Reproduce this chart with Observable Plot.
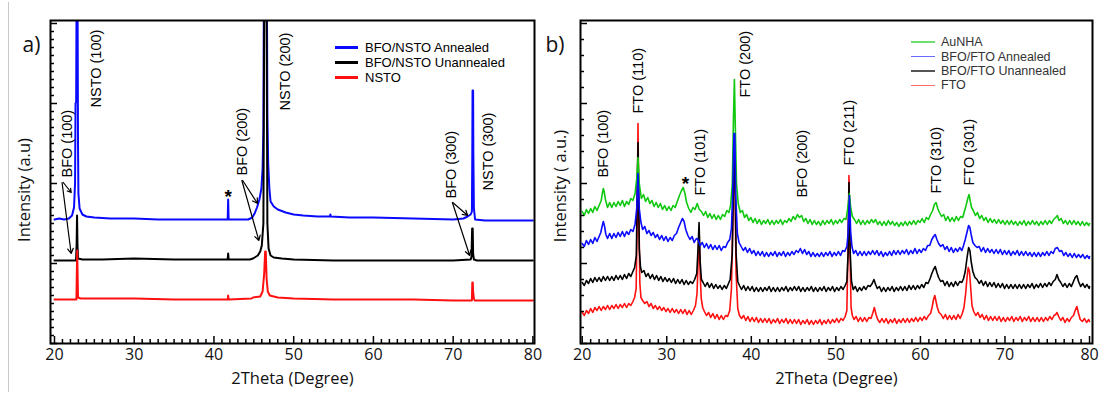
<!DOCTYPE html>
<html>
<head>
<meta charset="utf-8">
<script src="https://cdn.jsdelivr.net/npm/d3@7"></script>
<script src="https://cdn.jsdelivr.net/npm/@observablehq/plot@0.6"></script>
<style>
  body { margin: 0; background: #fff; }
  #fig { position: relative; width: 1106px; height: 396px; overflow: hidden; background: #fff; font-family: "Liberation Sans", Arial, sans-serif; }
  #fig .edge { position: absolute; left: 8px; top: 2px; width: 1px; height: 390px; background: #c8c8c8; }
  #fig .panel { position: absolute; top: 0; }
  #fig .legend { position: absolute; }
  #fig .legend .row { display: flex; align-items: center; white-space: nowrap; }
  #fig .legend .swatch { display: inline-block; }
</style>
</head>
<body>
<div id="fig">
  <div class="edge"></div>
  <div class="panel" id="panelA"></div>
  <div class="panel" id="panelB" style="left:545px"></div>
  <div class="legend" id="legendA" style="left:335px; top:40px; font-size:13px; color:#000"></div>
  <div class="legend" id="legendB" style="left:911px; top:35px; font-size:12.5px; color:#333"></div>
</div>
<script>
// ---- shared axis values --------------------------------------------------
const twoThetaTicks = [20, 30, 40, 50, 60, 70, 80];

// ---- panel a: BFO on Nb:SrTiO3 (2θ in degrees, intensity in a.u.) ---------
const bfoNstoAnnealed = [
  [20.0,124],[20.6,125],[21.2,124],[21.8,125],[22.2,128],[22.45,136],[22.58,160],[22.64,240],[22.72,242],
  [22.76,330],[22.9,330],[22.95,200],[23.0,150],[23.15,135],[23.5,129],[24.0,127],[25,126],[27,125],
  [30,125],[33,124],[36,124],[39,124],[41.72,124],[41.78,144],[41.84,124],[43,124],[44.3,124],[44.8,126],
  [45.1,130],[45.4,136],[45.7,144],[45.95,155],[46.1,175],[46.2,215],[46.25,330],[46.65,330],[46.7,230],
  [46.8,180],[46.95,155],[47.1,142],[47.5,137],[48,134],[49,131],[50,129],[51.2,128],[53,127],[54.55,127],
  [54.6,129],[54.65,127],[57,126],[60,126],[65,125],[70,124],[71.3,125],[71.8,127],[72.2,129],[72.35,132],
  [72.4,191],[72.43,253],[72.5,253],[72.53,191],[72.6,135],[72.75,124],[74,123],[77,123],[80,123]
];
const bfoNstoUnannealed = [
  [20.0,83],[21,83],[22.0,83],[22.7,83],[22.78,100],[22.83,128],[22.88,100],[22.95,85],[23.5,84],[26,84],
  [30,85],[35,84],[41.72,84],[41.78,90],[41.84,84],[44.5,84],[44.9,85],[45.1,86],[45.5,88],[45.8,92],
  [46.0,98],[46.2,120],[46.3,330],[46.6,330],[46.7,120],[46.85,95],[47.1,88],[47.5,86],[48.5,85],[50,84],
  [55,83],[60,83],[65,83],[70,83],[72.2,84],[72.3,87],[72.38,115],[72.45,115],[72.5,90],[72.6,84],[73,83],[80,83]
];
const nstoSubstrate = [
  [20.0,44],[21,44],[22.0,44],[22.75,44],[22.8,70],[22.85,93],[22.9,70],[22.95,46],[23.3,45],[26,45],
  [30,45],[35,44],[41.72,44],[41.78,48],[41.84,44],[44.7,45],[44.9,46],[45.8,47],[46.1,52],[46.3,70],
  [46.42,92],[46.5,92],[46.6,65],[46.75,52],[47,48],[48,46],[50,45],[55,44],[60,44],[65,44],[70,43],
  [72.35,43],[72.4,61],[72.46,61],[72.5,52],[72.6,45],[72.7,43],[80,43]
];
const seriesNamesA = ["BFO/NSTO Annealed", "BFO/NSTO Unannealed", "NSTO"];
const seriesColorsA = ["#0a0aff", "#000000", "#ff1010"];
const peakLabelsA = [
  {label: "BFO (100)", x: 21.6, y: 166},
  {label: "NSTO (100)", x: 25.3, y: 236},
  {label: "BFO (200)", x: 43.55, y: 168},
  {label: "NSTO (200)", x: 48.9, y: 233},
  {label: "BFO (300)", x: 69.8, y: 145},
  {label: "NSTO (300)", x: 74.4, y: 153}
];
const starsA = [{x: 41.8, y: 147}];
const arrowsA = [
  {x1: 21.1, y1: 161, x2: 22.1, y2: 151},
  {x1: 20.95, y1: 161, x2: 22.09, y2: 90},
  {x1: 43.6, y1: 163, x2: 45.47, y2: 140},
  {x1: 43.5, y1: 163, x2: 45.63, y2: 103},
  {x1: 69.94, y1: 141, x2: 71.82, y2: 128},
  {x1: 69.9, y1: 141, x2: 72.07, y2: 88}
];

// ---- panel b: BFO on FTO glass and AuNHA ----------------------------------
const auNHA = [
  [20.00,132],[20.25,128],[20.50,134],[20.75,130],[21.00,135],[21.25,131],[21.50,137],[21.75,133],[22.00,138],
  [22.25,143],[22.40,151],[22.50,155],[22.60,152],[22.75,144],[23.00,136],[23.25,141],[23.50,136],[23.75,141],
  [24.00,137],[24.25,142],[24.50,138],[24.75,143],[25.00,137],[25.25,142],[25.50,139],[25.75,145],[26.00,143],
  [26.25,150],[26.45,165],[26.60,186],[26.75,160],[26.90,151],[27.00,145],[27.25,149],[27.50,142],[27.75,146],
  [28.00,140],[28.25,143],[28.50,137],[28.75,141],[29.00,136],[29.25,140],[29.50,134],[29.75,138],[30.00,133],
  [30.25,137],[30.50,133],[30.75,138],[31.00,136],[31.25,142],[31.50,148],[31.75,153],[31.95,156],[32.15,150],
  [32.35,141],[32.60,135],[32.85,131],[33.10,136],[33.35,134],[33.60,140],[33.85,134],[34.10,132],[34.35,128],
  [34.60,132],[34.85,126],[35.10,130],[35.35,125],[35.60,129],[35.85,124],[36.10,128],[36.35,124],[36.60,129],
  [36.85,127],[37.10,133],[37.35,131],[37.55,138],[37.75,160],[37.90,230],[38.00,264],[38.10,220],[38.25,160],
  [38.45,140],[38.70,131],[38.95,133],[39.20,126],[39.45,129],[39.70,123],[39.95,126],[40.20,121],[40.45,125],
  [40.70,120],[40.95,124],[41.20,119],[41.45,123],[41.70,120],[41.95,124],[42.20,119],[42.45,123],[42.70,119],
  [42.95,123],[43.20,120],[43.45,124],[43.70,119],[43.95,123],[44.20,121],[44.45,125],[44.70,122],[44.95,127],
  [45.20,124],[45.45,129],[45.70,126],[45.95,128],[46.20,122],[46.45,125],[46.70,120],[46.95,124],[47.20,119],
  [47.45,123],[47.70,119],[47.95,122],[48.20,118],[48.45,123],[48.70,119],[48.95,123],[49.20,120],[49.45,124],
  [49.70,119],[49.95,123],[50.20,120],[50.45,124],[50.70,121],[50.95,125],[51.20,124],[51.40,135],[51.60,150],
  [51.75,136],[51.95,127],[52.20,124],[52.45,120],[52.70,124],[52.95,119],[53.20,123],[53.45,119],[53.70,123],
  [53.95,120],[54.20,124],[54.45,121],[54.70,124],[54.95,119],[55.20,122],[55.45,118],[55.70,122],[55.95,118],
  [56.20,123],[56.45,119],[56.70,122],[56.95,118],[57.20,121],[57.45,117],[57.70,121],[57.95,118],[58.20,122],
  [58.45,118],[58.70,122],[58.95,119],[59.20,123],[59.45,119],[59.70,123],[59.95,121],[60.20,125],[60.45,121],
  [60.70,126],[60.95,124],[61.20,129],[61.45,133],[61.65,139],[61.85,141],[62.05,135],[62.25,131],[62.50,127],
  [62.75,129],[63.00,123],[63.25,127],[63.50,122],[63.75,126],[64.00,122],[64.25,127],[64.50,123],[64.75,127],
  [65.00,126],[65.20,132],[65.40,138],[65.60,145],[65.75,149],[65.90,142],[66.05,136],[66.25,133],[66.50,128],
  [66.75,131],[67.00,125],[67.25,128],[67.50,123],[67.75,126],[68.00,121],[68.25,125],[68.50,121],[68.75,124],
  [69.00,120],[69.25,124],[69.50,120],[69.75,123],[70.00,119],[70.25,123],[70.50,119],[70.75,123],[71.00,119],
  [71.25,122],[71.50,118],[71.75,122],[72.00,119],[72.25,123],[72.50,118],[72.75,122],[73.00,119],[73.25,123],
  [73.50,119],[73.75,122],[74.00,118],[74.25,122],[74.50,119],[74.75,123],[75.00,119],[75.25,123],[75.50,120],
  [75.75,124],[76.00,126],[76.20,128],[76.40,123],[76.65,125],[76.90,120],[77.15,123],[77.40,119],[77.65,123],
  [77.90,119],[78.15,123],[78.40,119],[78.65,122],[78.90,118],[79.15,122],[79.40,118],[79.65,121],[79.90,118],
  [80.00,120]
];
const bfoFtoAnnealed = [
  [20.00,100],[20.25,97],[20.50,103],[20.75,99],[21.00,104],[21.25,100],[21.50,106],[21.75,102],[22.00,107],
  [22.20,111],[22.35,117],[22.50,122],[22.65,117],[22.80,109],[23.00,105],[23.25,110],[23.50,105],[23.75,110],
  [24.00,106],[24.25,111],[24.50,107],[24.75,112],[25.00,107],[25.25,112],[25.50,109],[25.75,114],[26.00,112],
  [26.25,119],[26.45,135],[26.60,170],[26.75,135],[26.95,121],[27.15,114],[27.40,117],[27.65,110],[27.90,113],
  [28.15,108],[28.40,111],[28.65,106],[28.90,109],[29.15,104],[29.40,108],[29.65,103],[29.90,107],[30.15,102],
  [30.40,106],[30.65,103],[30.90,108],[31.15,110],[31.40,116],[31.65,121],[31.85,125],[32.05,122],[32.25,114],
  [32.50,108],[32.75,104],[33.00,107],[33.25,101],[33.50,105],[33.70,104],[33.95,98],[34.20,101],[34.45,96],
  [34.70,100],[34.95,95],[35.20,99],[35.45,94],[35.70,98],[35.95,94],[36.20,98],[36.45,93],[36.70,97],
  [36.95,96],[37.20,101],[37.45,104],[37.65,115],[37.80,150],[37.95,210],[38.05,210],[38.15,150],[38.35,110],
  [38.55,101],[38.80,97],[39.05,93],[39.30,96],[39.55,91],[39.80,95],[40.05,90],[40.30,93],[40.55,88],
  [40.80,92],[41.05,88],[41.30,92],[41.55,87],[41.80,91],[42.05,87],[42.30,91],[42.55,88],[42.80,92],
  [43.05,87],[43.30,91],[43.55,88],[43.80,92],[44.05,87],[44.30,91],[44.55,88],[44.80,92],[45.05,89],
  [45.30,93],[45.55,91],[45.80,95],[46.05,90],[46.30,94],[46.55,89],[46.80,92],[47.05,87],[47.30,91],
  [47.55,87],[47.80,90],[48.05,87],[48.30,91],[48.55,87],[48.80,91],[49.05,88],[49.30,92],[49.55,87],
  [49.80,91],[50.05,88],[50.30,92],[50.55,88],[50.80,93],[51.05,92],[51.30,97],[51.45,110],[51.60,148],
  [51.75,112],[51.90,97],[52.10,90],[52.35,93],[52.60,88],[52.85,92],[53.10,88],[53.35,92],[53.60,88],
  [53.85,92],[54.10,89],[54.35,93],[54.60,89],[54.85,93],[55.10,88],[55.35,92],[55.60,87],[55.85,91],
  [56.10,88],[56.35,92],[56.60,88],[56.85,93],[57.10,89],[57.35,93],[57.60,89],[57.85,93],[58.10,90],
  [58.35,94],[58.60,89],[58.85,93],[59.10,90],[59.35,95],[59.60,90],[59.85,94],[60.10,91],[60.35,95],
  [60.60,93],[60.85,98],[61.10,98],[61.35,104],[61.55,107],[61.75,109],[61.95,104],[62.15,100],[62.40,97],
  [62.65,99],[62.90,94],[63.15,97],[63.40,92],[63.65,96],[63.90,91],[64.15,95],[64.40,92],[64.65,96],
  [64.90,93],[65.10,98],[65.30,104],[65.50,111],[65.70,118],[65.85,116],[66.00,109],[66.20,101],[66.45,98],
  [66.70,96],[66.95,97],[67.20,92],[67.45,96],[67.70,91],[67.95,95],[68.20,91],[68.45,94],[68.70,90],
  [68.95,94],[69.20,90],[69.45,94],[69.70,89],[69.95,93],[70.20,89],[70.45,93],[70.70,88],[70.95,92],
  [71.20,89],[71.45,93],[71.70,88],[71.95,92],[72.20,88],[72.45,92],[72.70,88],[72.95,91],[73.20,87],
  [73.45,91],[73.70,87],[73.95,91],[74.20,87],[74.45,91],[74.70,88],[74.95,92],[75.20,88],[75.45,92],
  [75.70,90],[75.95,95],[76.20,96],[76.45,92],[76.70,93],[76.95,88],[77.20,91],[77.45,87],[77.70,90],
  [77.95,86],[78.20,90],[78.45,86],[78.70,89],[78.95,86],[79.20,89],[79.45,85],[79.70,88],[79.95,85],
  [80.00,87]
];
const bfoFtoUnannealed = [
  [20.00,61],[20.25,58],[20.50,63],[20.75,60],[21.00,65],[21.25,61],[21.50,66],[21.75,62],[22.00,66],
  [22.25,62],[22.50,67],[22.75,63],[23.00,67],[23.25,63],[23.50,67],[23.75,63],[24.00,68],[24.25,64],
  [24.50,68],[24.75,64],[25.00,69],[25.25,65],[25.50,70],[25.75,67],[26.00,72],[26.20,76],[26.40,88],
  [26.60,201],[26.75,95],[26.90,76],[27.05,71],[27.30,73],[27.55,67],[27.80,70],[28.05,65],[28.30,69],
  [28.55,64],[28.80,68],[29.05,63],[29.30,67],[29.55,62],[29.80,66],[30.05,62],[30.30,65],[30.55,61],
  [30.80,65],[31.05,60],[31.30,64],[31.55,60],[31.80,64],[32.05,59],[32.30,63],[32.55,59],[32.80,62],
  [33.05,60],[33.30,64],[33.55,70],[33.70,95],[33.82,121],[33.95,82],[34.10,64],[34.30,61],[34.55,57],
  [34.80,61],[35.05,56],[35.30,60],[35.55,55],[35.80,59],[36.05,55],[36.30,58],[36.55,54],[36.80,58],
  [37.05,55],[37.30,60],[37.50,64],[37.75,90],[37.95,190],[38.05,190],[38.20,90],[38.40,62],[38.60,58],
  [38.85,54],[39.10,58],[39.35,53],[39.60,57],[39.85,53],[40.10,57],[40.35,52],[40.60,56],[40.85,52],
  [41.10,56],[41.35,52],[41.60,56],[41.85,53],[42.10,57],[42.35,52],[42.60,56],[42.85,52],[43.10,56],
  [43.35,52],[43.60,56],[43.85,53],[44.10,57],[44.35,52],[44.60,56],[44.85,53],[45.10,57],[45.35,53],
  [45.60,57],[45.85,52],[46.10,56],[46.35,52],[46.60,56],[46.85,53],[47.10,57],[47.35,52],[47.60,56],
  [47.85,52],[48.10,56],[48.35,53],[48.60,57],[48.85,52],[49.10,56],[49.35,53],[49.60,57],[49.85,52],
  [50.10,56],[50.35,53],[50.60,57],[50.85,54],[51.10,58],[51.30,62],[51.45,90],[51.55,161],[51.70,90],
  [51.85,62],[52.05,54],[52.30,57],[52.55,52],[52.80,56],[53.05,53],[53.30,57],[53.55,54],[53.80,58],
  [54.05,57],[54.30,60],[54.50,64],[54.70,59],[54.90,55],[55.15,57],[55.40,52],[55.65,56],[55.90,52],
  [56.15,56],[56.40,53],[56.65,57],[56.90,52],[57.15,56],[57.40,53],[57.65,57],[57.90,53],[58.15,57],
  [58.40,53],[58.65,58],[58.90,54],[59.15,58],[59.40,54],[59.65,58],[59.90,55],[60.15,59],[60.40,56],
  [60.65,61],[60.90,60],[61.15,65],[61.35,70],[61.55,74],[61.75,77],[61.95,71],[62.15,66],[62.40,62],
  [62.65,63],[62.90,58],[63.15,62],[63.40,57],[63.65,61],[63.90,57],[64.15,62],[64.40,58],[64.65,62],
  [64.90,61],[65.10,65],[65.30,72],[65.50,85],[65.70,96],[65.85,93],[66.00,82],[66.20,72],[66.45,66],
  [66.70,64],[66.95,60],[67.20,63],[67.45,58],[67.70,62],[67.95,57],[68.20,61],[68.45,57],[68.70,61],
  [68.95,56],[69.20,60],[69.45,56],[69.70,60],[69.95,55],[70.20,59],[70.45,55],[70.70,59],[70.95,55],
  [71.20,59],[71.45,55],[71.70,59],[71.95,55],[72.20,59],[72.45,55],[72.70,59],[72.95,56],[73.20,60],
  [73.45,55],[73.70,59],[73.95,56],[74.20,60],[74.45,56],[74.70,60],[74.95,57],[75.20,61],[75.45,58],
  [75.70,62],[75.95,64],[76.15,69],[76.35,64],[76.60,61],[76.85,57],[77.10,60],[77.35,56],[77.60,60],
  [77.85,57],[78.10,62],[78.30,66],[78.50,68],[78.70,62],[78.95,57],[79.20,60],[79.45,56],[79.70,59],
  [79.95,55],[80.00,57]
];
const ftoGlass = [
  [20.00,31],[20.25,28],[20.50,33],[20.75,30],[21.00,35],[21.25,31],[21.50,36],[21.75,33],[22.00,37],
  [22.25,33],[22.50,37],[22.75,34],[23.00,38],[23.25,34],[23.50,38],[23.75,35],[24.00,39],[24.25,35],
  [24.50,39],[24.75,36],[25.00,40],[25.25,36],[25.50,40],[25.75,38],[26.00,42],[26.20,46],[26.38,55],
  [26.50,120],[26.60,220],[26.70,130],[26.82,60],[26.95,46],[27.15,43],[27.40,40],[27.65,42],[27.90,37],
  [28.15,40],[28.40,35],[28.65,38],[28.90,34],[29.15,37],[29.40,33],[29.65,36],[29.90,32],[30.15,35],
  [30.40,31],[30.65,35],[30.90,31],[31.15,34],[31.40,30],[31.65,34],[31.90,30],[32.15,34],[32.40,29],
  [32.65,33],[32.90,29],[33.15,33],[33.40,38],[33.58,50],[33.70,80],[33.82,115],[33.95,70],[34.08,45],
  [34.25,36],[34.45,32],[34.70,28],[34.95,31],[35.20,26],[35.45,30],[35.70,25],[35.95,29],[36.20,24],
  [36.45,28],[36.70,24],[36.95,28],[37.20,27],[37.45,33],[37.65,55],[37.85,140],[37.95,170],[38.05,170],
  [38.20,70],[38.40,35],[38.60,28],[38.85,25],[39.10,28],[39.35,23],[39.60,27],[39.85,22],[40.10,26],
  [40.35,22],[40.60,26],[40.85,21],[41.10,25],[41.35,21],[41.60,25],[41.85,21],[42.10,25],[42.35,20],
  [42.60,24],[42.85,21],[43.10,25],[43.35,20],[43.60,24],[43.85,21],[44.10,25],[44.35,20],[44.60,24],
  [44.85,20],[45.10,24],[45.35,20],[45.60,24],[45.85,19],[46.10,23],[46.35,20],[46.60,24],[46.85,19],
  [47.10,23],[47.35,19],[47.60,23],[47.85,20],[48.10,24],[48.35,19],[48.60,23],[48.85,20],[49.10,24],
  [49.35,20],[49.60,24],[49.85,21],[50.10,25],[50.35,21],[50.60,25],[50.85,23],[51.10,27],[51.30,33],
  [51.45,100],[51.55,168],[51.65,100],[51.80,36],[51.95,28],[52.15,24],[52.40,27],[52.65,22],[52.90,26],
  [53.15,22],[53.40,26],[53.65,22],[53.90,26],[54.15,25],[54.35,30],[54.55,36],[54.75,29],[54.95,24],
  [55.20,21],[55.45,25],[55.70,21],[55.95,25],[56.20,20],[56.45,24],[56.70,21],[56.95,25],[57.20,20],
  [57.45,24],[57.70,21],[57.95,25],[58.20,21],[58.45,25],[58.70,21],[58.95,25],[59.20,22],[59.45,26],
  [59.70,22],[59.95,26],[60.20,23],[60.45,27],[60.70,24],[60.95,28],[61.20,30],[61.40,37],[61.55,44],
  [61.70,48],[61.85,42],[62.00,36],[62.20,31],[62.45,29],[62.70,25],[62.95,29],[63.20,24],[63.45,28],
  [63.70,24],[63.95,28],[64.20,24],[64.45,29],[64.70,25],[64.95,30],[65.15,36],[65.35,50],[65.50,65],
  [65.65,76],[65.80,72],[65.95,55],[66.10,38],[66.30,32],[66.55,28],[66.80,31],[67.05,26],[67.30,29],
  [67.55,24],[67.80,28],[68.05,23],[68.30,27],[68.55,23],[68.80,27],[69.05,23],[69.30,27],[69.55,22],
  [69.80,26],[70.05,22],[70.30,26],[70.55,23],[70.80,27],[71.05,22],[71.30,26],[71.55,23],[71.80,27],
  [72.05,22],[72.30,26],[72.55,23],[72.80,27],[73.05,22],[73.30,26],[73.55,22],[73.80,26],[74.05,22],
  [74.30,26],[74.55,22],[74.80,26],[75.05,23],[75.30,27],[75.55,24],[75.80,28],[76.00,29],[76.15,31],
  [76.35,27],[76.60,23],[76.85,26],[77.10,21],[77.35,25],[77.60,22],[77.85,26],[78.10,28],[78.30,33],
  [78.50,37],[78.70,30],[78.90,24],[79.15,22],[79.40,25],[79.65,21],[79.90,24],[80.00,22]
];
const seriesNamesB = ["AuNHA", "BFO/FTO Annealed", "BFO/FTO Unannealed", "FTO"];
const seriesColorsB = ["#10c810", "#0a0aff", "#000000", "#ff1010"];
const legendSwatchB = ["#6fe06f", "#6a6aff", "#555555", "#ff6a6a"];
const peakLabelsB = [
  {label: "BFO (100)", x: 22.54, y: 166},
  {label: "FTO (110)", x: 26.69, y: 230},
  {label: "FTO (101)", x: 33.96, y: 148},
  {label: "FTO (200)", x: 39.3, y: 246},
  {label: "BFO (200)", x: 45.98, y: 146},
  {label: "FTO (211)", x: 51.54, y: 178},
  {label: "FTO (310)", x: 61.9, y: 150},
  {label: "FTO (301)", x: 65.74, y: 158}
];
const starsB = [{x: 32.2, y: 160}];

// ---- drawing ---------------------------------------------------------------
const AXIS_FONT = "'Open Sans', 'Noto Sans', sans-serif";
const LABEL_FONT = "'Liberation Sans', Arial, sans-serif";

function drawPanel(cfg) {
  const [x0, x1] = cfg.xDomain;
  const innerW = cfg.width - cfg.marginLeft - cfg.marginRight;
  const pxPerDeg = innerW / (x1 - x0);
  const yTicks = d3.range(0, 324, cfg.yStep);
  const xTicks = d3.range(20, 81, 1);
  return Plot.plot({
    width: cfg.width,
    height: 396,
    marginTop: 20,
    marginBottom: 53,
    marginLeft: cfg.marginLeft,
    marginRight: cfg.marginRight,
    x: {domain: cfg.xDomain, axis: null},
    y: {domain: [0, 323], axis: null},
    style: {background: "transparent", overflow: "visible"},
    marks: [
      ...cfg.traces.map(t => Plot.line(t.data, {
        x: d => d[0], y: d => d[1], stroke: t.color, strokeWidth: cfg.lineWidth, clip: true
      })),
      // inward ticks on the left and bottom axes
      Plot.ruleY(yTicks, {y: d => d, x1: x0, x2: d => x0 + (d % 80 === 0 ? 7 : 4) / pxPerDeg, stroke: "#000", strokeWidth: 1.5}),
      Plot.ruleX(xTicks, {x: d => d, y1: 0, y2: d => (d % 10 === 0 ? 7 : 4), stroke: "#000", strokeWidth: 1.5}),
      Plot.frame({stroke: "#000", strokeWidth: 2}),
      Plot.text(twoThetaTicks, {x: d => d, frameAnchor: "bottom", dy: 16, text: d => String(d), fontSize: 16, fontFamily: AXIS_FONT, fill: "#111"}),
      Plot.text(["2Theta (Degree)"], {frameAnchor: "bottom", dy: 40, fontSize: 16.5, fontFamily: AXIS_FONT, fill: "#111"}),
      Plot.text([cfg.yTitle], {frameAnchor: "left", textAnchor: "middle", dx: cfg.yTitleDx, dy: cfg.yTitleDy, rotate: -90, fontSize: 16.5, fontFamily: AXIS_FONT, fill: "#111"}),
      Plot.text([cfg.tag], {frameAnchor: "top-left", textAnchor: "start", dx: cfg.tagDx, dy: 17, fontSize: 21, fontFamily: AXIS_FONT, fill: "#111"}),
      Plot.text(cfg.labels, {x: "x", y: "y", text: "label", rotate: -90, textAnchor: "start", fontSize: 14.5, fontFamily: LABEL_FONT, fill: "#000"}),
      Plot.text(cfg.stars, {x: "x", y: "y", text: () => "*", fontSize: 19, fontWeight: "bold", fontFamily: LABEL_FONT, fill: "#000"}),
      Plot.arrow(cfg.arrows, {x1: "x1", y1: "y1", x2: "x2", y2: "y2", stroke: "#000", strokeWidth: 1.2, headLength: 7})
    ]
  });
}

function drawLegend(el, names, colors, opts) {
  names.forEach((name, i) => {
    const row = document.createElement("div");
    row.className = "row";
    row.style.height = opts.rowHeight + "px";
    const sw = document.createElement("span");
    sw.className = "swatch";
    sw.style.width = opts.swatchWidth + "px";
    sw.style.height = opts.swatchThickness + "px";
    sw.style.background = colors[i];
    sw.style.marginRight = opts.gap + "px";
    const label = document.createElement("span");
    label.textContent = name;
    row.appendChild(sw);
    row.appendChild(label);
    el.appendChild(row);
  });
}

document.getElementById("panelA").appendChild(drawPanel({
  width: 545, marginLeft: 50, marginRight: 11, xDomain: [19.5, 80.2], yStep: 8, lineWidth: 2,
  traces: [
    {data: bfoNstoAnnealed, color: seriesColorsA[0]},
    {data: bfoNstoUnannealed, color: seriesColorsA[1]},
    {data: nstoSubstrate, color: seriesColorsA[2]}
  ],
  labels: peakLabelsA, stars: starsA, arrows: arrowsA,
  yTitle: "Intensity (a.u)", yTitleDx: -26, yTitleDy: 8, tag: "a)", tagDx: -28
}));

document.getElementById("panelB").appendChild(drawPanel({
  width: 561, marginLeft: 35, marginRight: 14, xDomain: [19.8, 80.35], yStep: 16, lineWidth: 1.6,
  traces: [
    {data: ftoGlass, color: seriesColorsB[3]},
    {data: bfoFtoUnannealed, color: seriesColorsB[2]},
    {data: auNHA, color: seriesColorsB[0]},
    {data: bfoFtoAnnealed, color: seriesColorsB[1]}
  ],
  labels: peakLabelsB, stars: starsB, arrows: [],
  yTitle: "Intensity ( a.u.)", yTitleDx: -20, yTitleDy: 4, tag: "b)", tagDx: -35
}));

drawLegend(document.getElementById("legendA"), seriesNamesA, seriesColorsA,
  {rowHeight: 15, swatchWidth: 23, swatchThickness: 2.5, gap: 7});
drawLegend(document.getElementById("legendB"), seriesNamesB, legendSwatchB,
  {rowHeight: 14.4, swatchWidth: 24, swatchThickness: 1.5, gap: 6});
</script>
</body>
</html>
